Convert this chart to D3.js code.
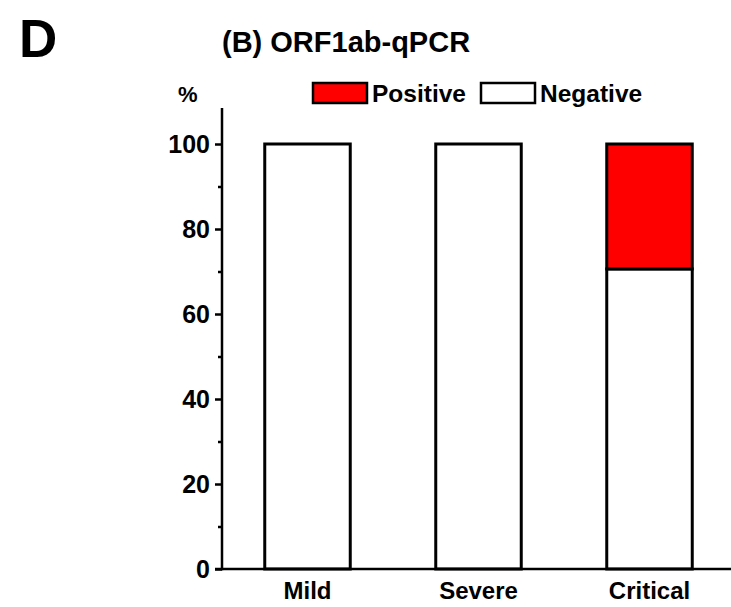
<!DOCTYPE html>
<html><head><meta charset="utf-8">
<script src="https://cdn.jsdelivr.net/npm/d3@7"></script>
<style>body{margin:0;background:#fff}text{font-family:"Liberation Sans",Arial,sans-serif;font-weight:bold}</style>
</head><body><svg id="c" width="731" height="607"></svg>
<script>
const categories = ["Mild", "Severe", "Critical"];
const positive = [0, 0, 29.4];
const negative = [100, 100, 70.6];
const seriesNames = ["Positive", "Negative"];
const seriesColors = ["#ff0000", "#ffffff"];
const yTicks = [0, 20, 40, 60, 80, 100];
const yMinorTicks = [10, 30, 50, 70, 90];

const svg = d3.select("#c");
const x = d3.scaleBand().domain(categories).range([222, 735]).paddingInner(0.5).paddingOuter(0.25);
const y = d3.scaleLinear().domain([0, 100]).range([569, 144]);

// bars
const g = svg.append("g");
categories.forEach((c, i) => {
  g.append("rect").attr("x", x(c)).attr("width", x.bandwidth())
    .attr("y", y(negative[i])).attr("height", y(0) - y(negative[i]))
    .attr("fill", seriesColors[1]).attr("stroke", "#000").attr("stroke-width", 3);
  if (positive[i] > 0) {
    g.append("rect").attr("x", x(c)).attr("width", x.bandwidth())
      .attr("y", y(negative[i] + positive[i])).attr("height", y(negative[i]) - y(negative[i] + positive[i]))
      .attr("fill", seriesColors[0]).attr("stroke", "#000").attr("stroke-width", 3);
  }
});

// y axis
const yAxis = d3.axisLeft(y).tickValues(yTicks).tickSize(7).tickPadding(5).tickFormat(d3.format("d"));
const ya = svg.append("g").attr("transform", "translate(222,0)").call(yAxis);
ya.select(".domain").remove();
ya.selectAll("line").attr("stroke-width", 2.5);
ya.selectAll("text").attr("font-size", 25).attr("fill", "#000");
const yMinor = d3.axisLeft(y).tickValues(yMinorTicks).tickSize(4).tickFormat("");
const ym = svg.append("g").attr("transform", "translate(222,0)").call(yMinor);
ym.select(".domain").remove();
ym.selectAll("line").attr("stroke-width", 2.5);
svg.append("line").attr("x1", 222).attr("x2", 222).attr("y1", 108).attr("y2", y(0) + 1.2)
  .attr("stroke", "#000").attr("stroke-width", 2.5);

// x axis
const xAxis = d3.axisBottom(x).tickSize(0).tickPadding(13);
const xa = svg.append("g").attr("transform", `translate(0,${y(0)})`).call(xAxis);
xa.select(".domain").remove();
xa.selectAll("text").attr("font-size", 24).attr("fill", "#000");
svg.append("line").attr("x1", 215).attr("x2", 731).attr("y1", y(0)).attr("y2", y(0))
  .attr("stroke", "#000").attr("stroke-width", 2.5);

// titles
svg.append("text").attr("x", 19).attr("y", 57).attr("font-size", 53).text("D");
svg.append("text").attr("x", 222).attr("y", 52).attr("font-size", 29).text("(B) ORF1ab-qPCR");
svg.append("text").attr("x", 178).attr("y", 102).attr("font-size", 22).text("%");

// legend
const legX = [313, 481];
seriesNames.forEach((n, i) => {
  svg.append("rect").attr("x", legX[i]).attr("y", 83).attr("width", 54).attr("height", 20)
    .attr("fill", seriesColors[i]).attr("stroke", "#000").attr("stroke-width", 2.5);
  svg.append("text").attr("x", legX[i] + 59).attr("y", 102).attr("font-size", 24.5).text(n);
});
</script></body></html>
